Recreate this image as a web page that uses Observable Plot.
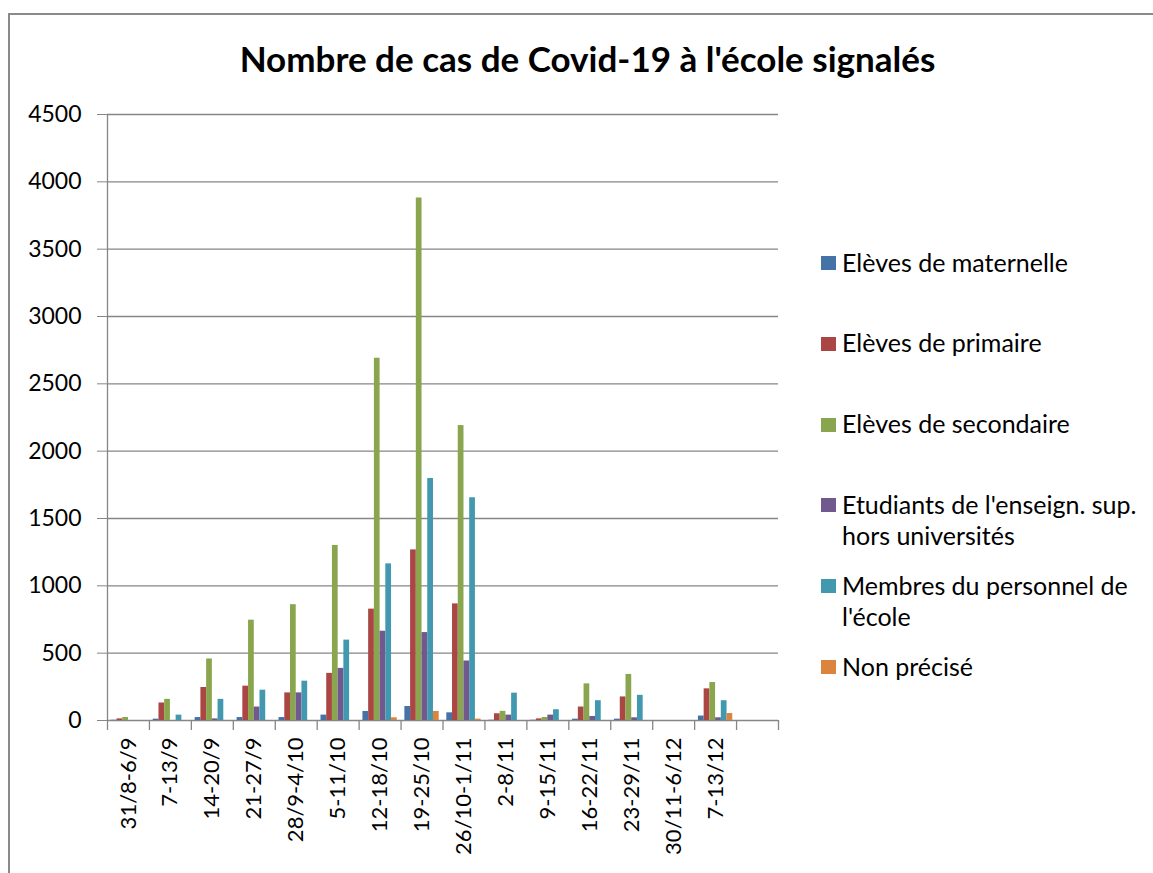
<!DOCTYPE html>
<html>
<head>
<meta charset="utf-8">
<script src="https://cdn.jsdelivr.net/npm/d3@7"></script>
<script src="https://cdn.jsdelivr.net/npm/@observablehq/plot@0.6"></script>
<style>
  html, body { margin: 0; padding: 0; background: #fff; overflow: hidden; }
  #page { position: relative; width: 1153px; height: 873px; overflow: hidden; font-family: Lato, "Open Sans", sans-serif; }
  #frame { position: absolute; left: 8px; top: 13px; width: 1300px; height: 1000px; border-left: 2.5px solid #8a8a8a; border-top: 2.5px solid #8a8a8a; }
  #title { position: absolute; left: 0; top: 38px; width: 1175px; text-align: center; font-weight: 700; font-size: 35px; line-height: 40px; color: #000; }
  #chart { position: absolute; left: 0; top: 0; }
  .item { position: absolute; left: 842px; width: 305px; font-size: 25px; line-height: 31px; color: #000; }
  .sw { position: absolute; left: -21px; top: 9.5px; width: 15px; height: 14px; }
</style>
</head>
<body>
<div id="page">
  <div id="frame"></div>
  <div id="chart"></div>
  <div id="title">Nombre de cas de Covid-19 à l'école signalés</div>
  <div id="legend"></div>
</div>
<script>
// ---- data ----
const weeks = ["31/8-6/9","7-13/9","14-20/9","21-27/9","28/9-4/10","5-11/10","12-18/10","19-25/10","26/10-1/11","2-8/11","9-15/11","16-22/11","23-29/11","30/11-6/12","7-13/12"];
const seriesNames = ["Elèves de maternelle","Elèves de primaire","Elèves de secondaire","Etudiants de l'enseign. sup. hors universités","Membres du personnel de l'école","Non précisé"];
const maternelle = [2, 10, 22, 22, 22, 40, 67, 104, 57, 2, 2, 10, 10, 0, 33];
const primaire   = [12, 130, 245, 255, 205, 350, 827, 1267, 866, 50, 12, 100, 175, 0, 235];
const secondaire = [22, 157, 457, 745, 860, 1300, 2690, 3880, 2190, 68, 22, 272, 342, 0, 282];
const superieur  = [0, 0, 12, 100, 205, 387, 663, 653, 442, 40, 40, 30, 20, 0, 20];
const personnel  = [0, 40, 157, 225, 292, 597, 1163, 1797, 1654, 203, 80, 147, 187, 0, 147];
const nonPrecise = [0, 0, 0, 0, 0, 0, 20, 67, 10, 0, 0, 0, 0, 0, 52];
const yTicks = [0, 500, 1000, 1500, 2000, 2500, 3000, 3500, 4000, 4500];
const colors = ["#4572A7", "#AA4643", "#89A54E", "#71588F", "#4198AF", "#DB843D"];

// ---- layout ----
const W = 1153, H = 873;
const mLeft = 107, mRight = W - 778, mTop = 114, mBottom = H - 720;
const slots = [...weeks, ""];               // one empty category at the end, as in the original
const band = (W - mLeft - mRight) / slots.length;
const barW = 5.72;
const pad = (band - barW * seriesNames.length) / 2;
const gridColor = "#868686";

const seriesValues = [maternelle, primaire, secondaire, superieur, personnel, nonPrecise];

const barMarks = seriesValues.map((vals, i) =>
  Plot.barY(weeks.map((w, j) => ({week: w, value: vals[j]})), {
    x: "week", y: "value", fill: colors[i],
    insetLeft: pad + i * barW,
    insetRight: band - pad - (i + 1) * barW
  })
);

const chart = Plot.plot({
  width: W, height: H,
  marginLeft: mLeft, marginRight: mRight, marginTop: mTop, marginBottom: mBottom,
  style: {fontFamily: "Lato, 'Open Sans', sans-serif", fontSize: "21px", color: "#000", background: "transparent", overflow: "visible"},
  x: {domain: slots, paddingInner: 0, paddingOuter: 0, round: false, label: null},
  y: {domain: [0, 4500], label: null},
  marks: [
    Plot.gridY(yTicks, {stroke: gridColor, strokeOpacity: 1, strokeWidth: 1.3}),
    // vertical axis line and category boundary ticks
    Plot.ruleX([slots[0]], {dx: -band / 2, stroke: gridColor, strokeWidth: 1.3}),
    Plot.ruleX(slots, {dx: -band / 2, y1: 0, y2: 0, insetBottom: -10, stroke: gridColor, strokeWidth: 1.3}),
    Plot.ruleX([slots[slots.length - 1]], {dx: band / 2, y1: 0, y2: 0, insetBottom: -10, stroke: gridColor, strokeWidth: 1.3}),
    ...barMarks,
    Plot.axisY(yTicks, {tickSize: 10, tickPadding: 16, stroke: gridColor, fill: "#000", fontSize: 23, tickFormat: d => String(d), label: null}),
    Plot.axisX({tickSize: 0, tickPadding: 17, tickRotate: -90, fill: "#000", fontSize: 22, label: null})
  ]
});
document.getElementById("chart").appendChild(chart);

// ---- legend ----
const legend = document.getElementById("legend");
seriesNames.forEach((name, i) => {
  const item = document.createElement("div");
  item.className = "item";
  item.style.top = (246.5 + i * 80.8) + "px";
  const sw = document.createElement("div");
  sw.className = "sw";
  sw.style.background = colors[i];
  item.appendChild(sw);
  item.appendChild(document.createTextNode(name));
  legend.appendChild(item);
});
</script>
</body>
</html>
